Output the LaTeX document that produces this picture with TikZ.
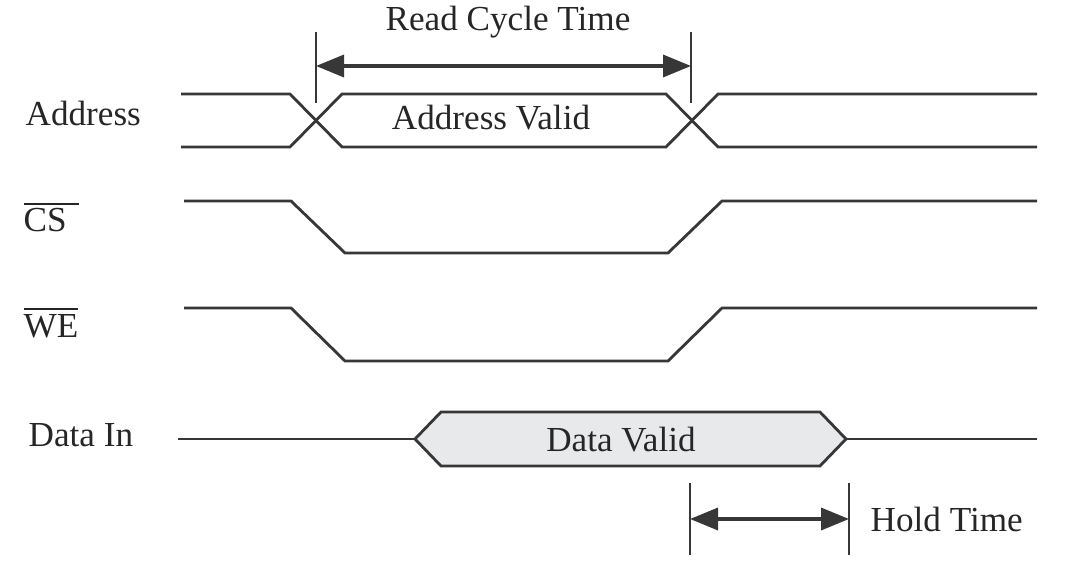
\documentclass[tikz,border=0pt]{standalone}
\usepackage{fontspec}
\setmainfont{Liberation Serif}
\usepackage{amsmath}
\usetikzlibrary{arrows.meta}
\definecolor{wavegray}{RGB}{55,55,55}
\definecolor{validgray}{RGB}{232,233,235}

\begin{document}
\begin{tikzpicture}[x=0.1mm,y=-0.1mm,font=\fontsize{10}{12}\selectfont]

%
% Styles
%
\tikzstyle{wave}  = [draw=wavegray,line width=0.8pt,line join=miter]
\tikzstyle{tick}  = [draw=wavegray,line width=0.4pt]
\tikzstyle{span}  = [{Triangle[length=2.8mm,width=2.2mm]}-{Triangle[length=2.8mm,width=2.2mm]},draw=wavegray,fill=wavegray,line width=1pt]
\tikzstyle{label} = [anchor=base west,inner sep=0pt,text=black!85]
\tikzstyle{inner} = [anchor=base,inner sep=0pt,text=black!85]

\useasboundingbox (0,0) rectangle (1070,580);

% signal names
\node[label] (addr) at ( 25,126) {Address};
\node[label] (cs)   at ( 23,232) {$\overline{\text{CS}\kern1.2mm}$};
\node[label] (we)   at ( 23,337) {$\overline{\text{WE}}$};
\node[label] (din)  at ( 28,446) {Data In};

% Address bus
\draw[wave] (181,94) -- (290,94) -- (342,147) -- (666,147) -- (718,94) -- (1037,94);
\draw[wave] (181,147) -- (290,147) -- (342,94) -- (666,94) -- (718,147) -- (1037,147);
\node[inner] (addrvalid) at (491,130) {Address Valid};

% CS and WE
\draw[wave] (184,201) -- (291,201) -- (345,253) -- (668,253) -- (722,201) -- (1037,201);
\draw[wave] (184,308) -- (291,308) -- (345,361) -- (668,361) -- (722,308) -- (1037,308);

% Data In
\draw[wave,fill=validgray] (415,439) -- (441,412) -- (820,412) -- (846,439)
  -- (820,466) -- (441,466) -- cycle;
\draw[wave] (178,439) -- (415,439);
\draw[wave] (846,439) -- (1037,439);
\node[inner] (datavalid) at (621,451) {Data Valid};

% Read cycle time
\draw[tick] (316,32) -- (316,103);
\draw[tick] (691,32) -- (691,103);
\coordinate (rcl) at (316,66);
\coordinate (rcr) at (691,66);
\draw[span] (rcl) -- (rcr);
\node[inner] (rctime) at (508,31) {Read Cycle Time};

% Hold time
\draw[tick] (690,483) -- (690,555);
\draw[tick] (849,483) -- (849,555);
\coordinate (htl) at (690,519);
\coordinate (htr) at (849,519);
\draw[span] (htl) -- (htr);
\node[label] (htime) at (870,531) {Hold Time};

\end{tikzpicture}
\end{document}
